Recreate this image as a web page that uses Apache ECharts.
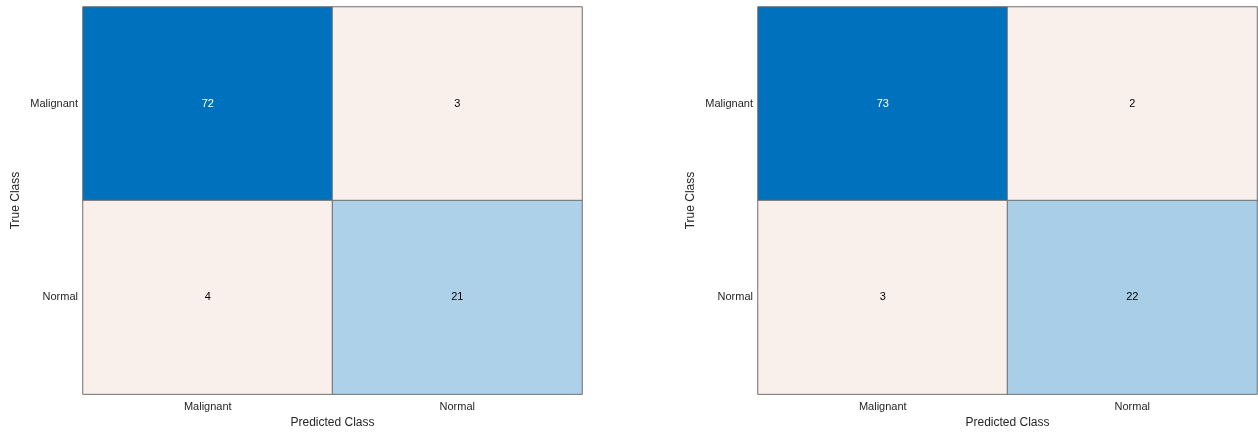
<!DOCTYPE html>
<html><head><meta charset="utf-8">
<script src="https://cdn.jsdelivr.net/npm/echarts@6/dist/echarts.min.js"></script>
<style>html,body{margin:0;padding:0;background:#fff}#c{width:1258px;height:434px}</style>
</head><body><div id="c"></div>
<script>
const classes = ['Malignant', 'Normal'];
const leftMatrix = [[72, 3], [4, 21]];
const rightMatrix = [[73, 2], [3, 22]];
const xAxisName = 'Predicted Class';
const yAxisName = 'True Class';

const font = 'Liberation Sans, Arial, Helvetica, sans-serif';
function lerp(a, b, t) { return a.map((v, i) => Math.round(v + (b[i] - v) * t)); }
function cellColor(v, diag, max) {
  if (diag) {
    const t = 0.05 + 0.95 * Math.min(1, v / max);
    const c = lerp([255, 255, 255], [0, 113, 188], t);
    return 'rgb(' + c.join(',') + ')';
  }
  return '#faf0eb';
}
function buildData(m) {
  const out = [];
  let max = 0;
  m.forEach(r => r.forEach(v => { max = Math.max(max, v); }));
  for (let i = 0; i < m.length; i++) for (let j = 0; j < m[i].length; j++) {
    const v = m[i][j];
    const col = cellColor(v, i === j, max);
    const dark = i === j && v / max > 0.6;
    out.push({ value: [j, i, v], itemStyle: { color: col },
      label: { color: dark ? '#ffffff' : '#000000' } });
  }
  return out;
}
const grids = [
  { left: 83, top: 7, width: 499, bottom: 33 },
  { left: 758, top: 7, width: 499, bottom: 33 }
];
const mats = [leftMatrix, rightMatrix];
const option = {
  animation: false,
  backgroundColor: '#fff',
  grid: grids,
  xAxis: grids.map((g, k) => ({
    gridIndex: k, type: 'category', data: classes,
    name: xAxisName, nameLocation: 'middle', nameGap: 21,
    nameTextStyle: { fontFamily: font, fontSize: 12, color: '#262626' },
    axisLine: { show: false }, axisTick: { show: false },
    axisLabel: { fontFamily: font, fontSize: 11, color: '#262626', margin: 7 },
    splitLine: { show: false }, splitArea: { show: false }
  })),
  yAxis: grids.map((g, k) => ({
    gridIndex: k, type: 'category', data: classes, inverse: true,
    name: yAxisName, nameLocation: 'middle', nameGap: 61, nameRotate: 90,
    nameTextStyle: { fontFamily: font, fontSize: 12, color: '#262626' },
    axisLine: { show: false }, axisTick: { show: false },
    axisLabel: { fontFamily: font, fontSize: 11, color: '#262626', margin: 5 },
    splitLine: { show: false }, splitArea: { show: false }
  })),
  series: mats.map((m, k) => ({
    type: 'heatmap', xAxisIndex: k, yAxisIndex: k,
    data: buildData(m),
    itemStyle: { borderColor: '#6e6e6e', borderWidth: 1 },
    label: { show: true, fontFamily: font, fontSize: 11, formatter: p => p.value[2] },
    emphasis: { disabled: true }
  }))
};
echarts.init(document.getElementById('c'), null, { renderer: 'canvas' }).setOption(option);
</script></body></html>
